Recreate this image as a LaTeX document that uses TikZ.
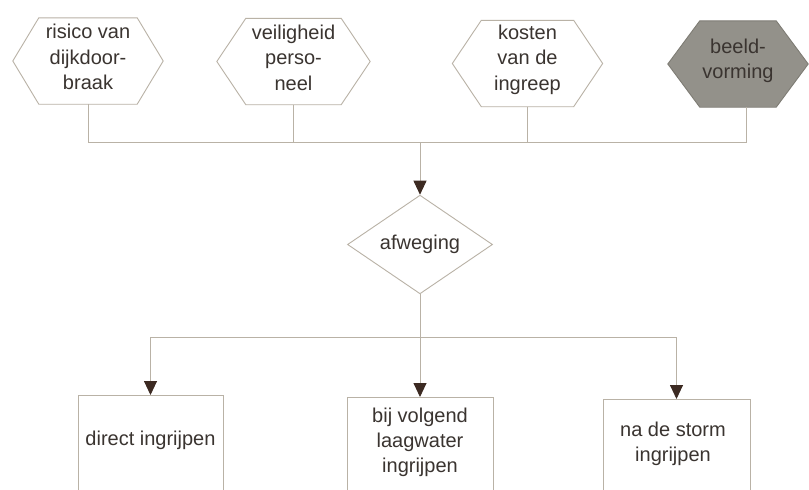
\documentclass[tikz,border=0pt]{standalone}
\usepackage{fontspec}
\setmainfont{Liberation Sans}
\usetikzlibrary{shapes.geometric,arrows.meta,backgrounds}
\definecolor{linec}{HTML}{B9B2A6}
\definecolor{arrowc}{HTML}{3C2A22}
\definecolor{textc}{HTML}{3A3430}
\definecolor{grayfill}{HTML}{93918A}
\definecolor{grayedge}{HTML}{7E7C74}
\tikzset{
  hexnode/.style={inner sep=0pt, minimum width=150pt, minimum height=86pt, align=center,
    text=textc, font=\fontsize{20}{25.5}\selectfont},
  hexline/.style={draw=linec, line width=0.9pt, fill=white},
  diam/.style={diamond, draw=linec, line width=0.9pt, minimum width=145pt, minimum height=95pt,
    inner sep=0pt, text=textc, font=\fontsize{20}{25}\selectfont},
  boxnode/.style={draw=linec, line width=0.9pt, anchor=north, minimum height=150pt, inner sep=0pt},
  boxtext/.style={align=center, text=textc, font=\fontsize{20}{25}\selectfont},
  conn/.style={draw=linec, line width=0.9pt},
  arr/.style={conn, -{Triangle[width=13pt,length=14pt,color=arrowc]}}
}
% #1 node, #2 style, #3 slant, #4 downward offset of the outline
\newcommand\hexdraw[4]{%
  \path[#2] ([xshift=#3,yshift=-#4]#1.north west) -- ([xshift=-#3,yshift=-#4]#1.north east)
    -- ([yshift=-#4]#1.east) -- ([xshift=-#3,yshift=-#4]#1.south east)
    -- ([xshift=#3,yshift=-#4]#1.south west) -- ([yshift=-#4]#1.west) -- cycle;}
\begin{document}
\begin{tikzpicture}[x=1pt,y=-1pt]
\clip (0,0) rectangle (809,490);

% hexagons (node centre = text centre; outline drawn a little lower)
\node[hexnode] (h1) at (88,57) {risico van\\dijkdoor-\\braak};
\node[hexnode, minimum width=153pt] (h2) at (293.5,57.5) {veiligheid\\perso-\\neel};
\node[hexnode] (h3) at (527.5,59.5) {kosten\\van de\\ingreep};
\node[hexnode, minimum width=140pt] (h4) at (738,61) {beeld-\\vorming};
\begin{scope}[on background layer]
  \fill[white] (0,0) rectangle (809,490);
  \hexdraw{h1}{hexline}{26pt}{4pt}
  \hexdraw{h2}{hexline}{29pt}{4pt}
  \hexdraw{h3}{hexline}{29pt}{4pt}
  \hexdraw{h4}{hexline, fill=grayfill, draw=grayedge}{32pt}{3pt}
\end{scope}

% decision
\node[diam] (d) at (420,244.5) {afweging};

% outcome boxes
\node[boxnode, minimum width=145pt] (b1) at (150.5,395) {};
\node[boxnode, minimum width=146pt] (b2) at (420,397) {};
\node[boxnode, minimum width=147pt] (b3) at (676.5,399) {};
\node[boxtext] (t1) at (150.5,440) {direct ingrijpen};
\node[boxtext] (t2) at (420,442) {bij volgend\\laagwater\\ingrijpen};
\node[boxtext] (t3) at (673,443.5) {na de storm\\ingrijpen};

% connectors
\coordinate (jt) at (420,142);
\coordinate (jb) at (419,337);
\draw[conn] ([yshift=-4pt]h1.south) -- (h1.south |- jt) -- ([xshift=8pt]h4.south |- jt) -- ([xshift=8pt,yshift=-3pt]h4.south);
\draw[conn] ([yshift=-4pt]h2.south) -- (h2.south |- jt);
\draw[conn] ([yshift=-4pt]h3.south) -- (h3.south |- jt);
\draw[arr] (jt) -- (d.north);
\draw[arr] (d.south) -- (b2.north);
\draw[conn] (b1.north |- jb) -- (b3.north |- jb);
\draw[arr] (b1.north |- jb) -- (b1.north);
\draw[arr] (b3.north |- jb) -- (b3.north);
\end{tikzpicture}
\end{document}
